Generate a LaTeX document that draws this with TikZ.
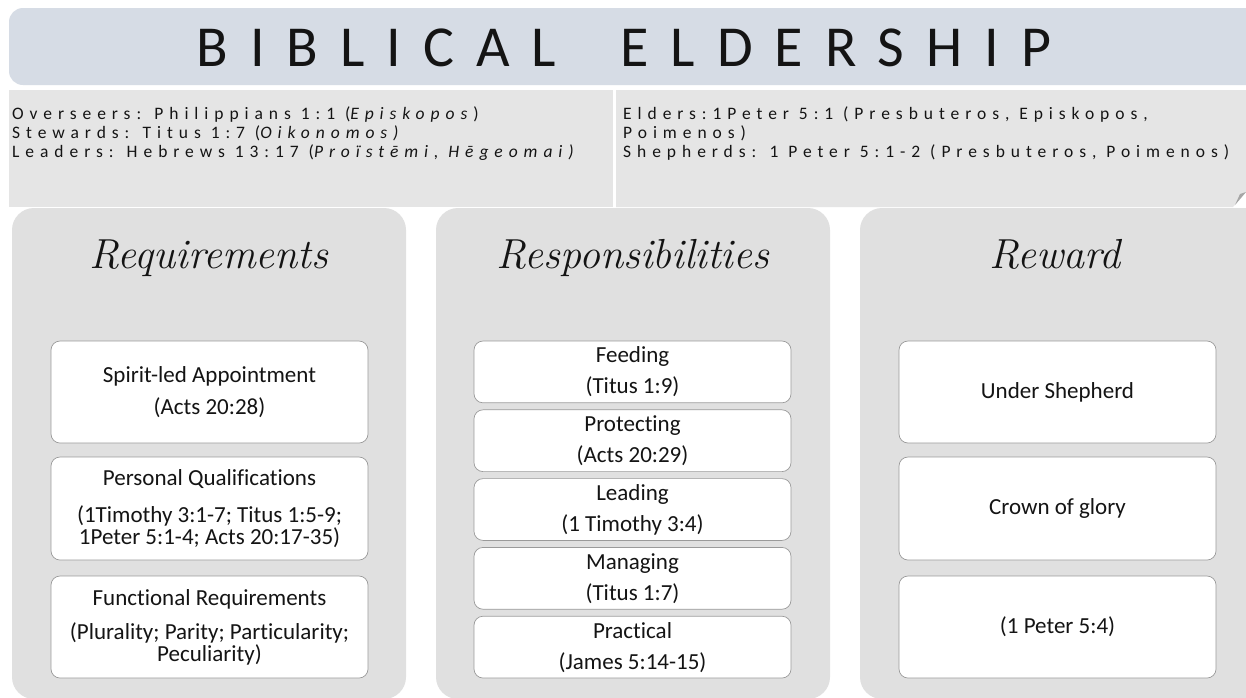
\documentclass[tikz,border=0pt]{standalone}
\usepackage{fontspec}
\setmainfont{Carlito}[Ligatures=NoCommon]
\newfontfamily\spaced{Carlito}[LetterSpace=34,Ligatures=NoCommon]
\newfontfamily\titlefnt{Carlito}[LetterSpace=38,Ligatures=NoCommon]
\newcommand\headfnt{\fontfamily{lmr}\fontshape{it}\selectfont}
\definecolor{titlebg}{HTML}{D6DCE5}
\definecolor{bandbg}{HTML}{E5E5E5}
\definecolor{colbg}{HTML}{E0E0E0}
\definecolor{boxline}{HTML}{9A9A9A}
\definecolor{ink}{HTML}{141414}
\begin{document}
\begin{tikzpicture}[x=1pt,y=-1pt,
  boxst/.style={draw=boxline, line width=0.7pt, fill=white, rounded corners=9pt, minimum width=317pt, inner sep=0pt},
  boxtxt/.style={font=\fontsize{23}{22}\selectfont, align=center, inner sep=0pt, text=ink},
  topline/.style={anchor=base west, inner sep=0pt, font=\spaced\fontsize{17.5}{19}\selectfont, text=ink},
  head/.style={font=\headfnt\fontsize{42}{42}\selectfont, inner sep=0pt, anchor=base, text=ink},
  colpanel/.style={fill=colbg, rounded corners=22pt}
]
\useasboundingbox (0,0) rectangle (1246,697);
\fill[white] (0,0) rectangle (1246,697);

% title band
\fill[titlebg, rounded corners=14pt] (9,8) rectangle (1280,85);
\node[inner sep=0pt, text=ink, font=\titlefnt\fontsize{58}{58}\selectfont] (title) at (624,47.5)
  {BIBLICAL\hspace{64pt}ELDERSHIP};

% info panels
\fill[bandbg] (9,90) rectangle (613,207);
\fill[bandbg] (616,90) -- (1246,90) -- (1246,192) -- (1233,207) -- (616,207) -- cycle;
\fill[black!35] (1235,205) -- (1240,194) -- (1246,192) -- cycle;

\node[topline] (o1) at (12,119) {Overseers: Philippians 1:1 (\textit{Episkopos})};
\node[topline] (o2) at (12,138) {Stewards: Titus 1:7 (\textit{Oikonomos)}};
\node[topline] (o3) at (12,157) {Leaders: Hebrews 13:17 (\textit{Proïstēmi, Hēgeomai)}};
\node[topline] (e1) at (623,119) {Elders:1Peter 5:1 (Presbuteros, Episkopos,};
\node[topline] (e2) at (623,138) {Poimenos)};
\node[topline] (e3) at (623,157) {Shepherds: 1 Peter 5:1-2 (Presbuteros, Poimenos)};

% column panels
\fill[colpanel] (12,208) rectangle (406,699);
\fill[colpanel] (436,208) rectangle (830,699);
\fill[colpanel] (860,208) rectangle (1270,699);

\node[head] (h1) at (209,268) {Requirements};
\node[head] (h2) at (633,268) {Responsibilities};
\node[head] (h3) at (1055,268) {Reward};

% column 1
\node[boxst, minimum height=102pt] (r1) at (209.5,392) {};
\node[boxst, minimum height=103pt] (r2) at (209.5,508.5) {};
\node[boxst, minimum height=102pt] (r3) at (209.5,627) {};
\node[boxtxt] (r1t) at (r1.center) {Spirit-led Appointment\\[10pt](Acts 20:28)};
\node[boxtxt] (r2t) at (r2.center) {Personal Qualifications\\[15pt](1Timothy 3:1-7; Titus 1:5-9;\\1Peter 5:1-4; Acts 20:17-35)};
\node[boxtxt] (r3t) at (r3.center) {Functional Requirements\\[12pt](Plurality; Parity; Particularity;\\Peculiarity)};

% column 2
\node[boxst, minimum height=61.8pt] (s1) at (632.5,371.9) {};
\node[boxst, minimum height=61.8pt] (s2) at (632.5,440.7) {};
\node[boxst, minimum height=61.8pt] (s3) at (632.5,509.5) {};
\node[boxst, minimum height=61.8pt] (s4) at (632.5,578.3) {};
\node[boxst, minimum height=61.8pt] (s5) at (632.5,647.1) {};
\node[boxtxt] (s1t) at (s1.center) {Feeding\\[9pt](Titus 1:9)};
\node[boxtxt] (s2t) at (s2.center) {Protecting\\[9pt](Acts 20:29)};
\node[boxtxt] (s3t) at (s3.center) {Leading\\[9pt](1 Timothy 3:4)};
\node[boxtxt] (s4t) at (s4.center) {Managing\\[9pt](Titus 1:7)};
\node[boxtxt] (s5t) at (s5.center) {Practical\\[9pt](James 5:14-15)};

% column 3
\node[boxst, minimum height=102pt] (w1) at (1057.5,392) {};
\node[boxst, minimum height=103pt] (w2) at (1057.5,508.5) {};
\node[boxst, minimum height=102pt] (w3) at (1057.5,627) {};
\node[boxtxt] (w1t) at (w1.center) {Under Shepherd};
\node[boxtxt] (w2t) at (w2.center) {Crown of glory};
\node[boxtxt] (w3t) at (w3.center) {(1 Peter 5:4)};
\end{tikzpicture}
\end{document}
